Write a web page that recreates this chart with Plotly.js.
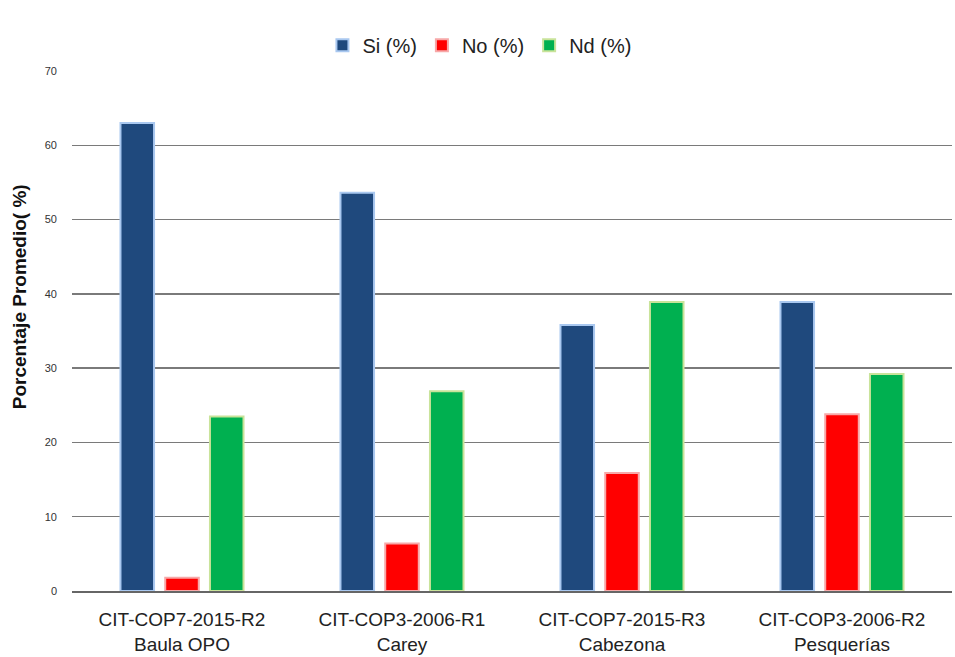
<!DOCTYPE html>
<html>
<head>
<meta charset="utf-8">
<script src="https://cdn.plot.ly/plotly-3.0.1.min.js"></script>
<style>html,body{margin:0;padding:0;background:#fff;}#chart{width:955px;height:657px;}</style>
</head>
<body>
<div id="chart"></div>
<script>
var categories = ["CIT-COP7-2015-R2<br>Baula OPO", "CIT-COP3-2006-R1<br>Carey", "CIT-COP7-2015-R3<br>Cabezona", "CIT-COP3-2006-R2<br>Pesquerías"];
var siValues = [63.0, 53.6, 35.8, 38.9];
var noValues = [1.8, 6.4, 15.9, 23.8];
var ndValues = [23.5, 26.9, 38.9, 29.2];
var yTicks = [0, 10, 20, 30, 40, 50, 60, 70];

var FONT = "'Liberation Sans', Arial, sans-serif";

var traces = [
  {type: 'bar', name: 'Si (%)', x: categories, y: siValues,
   marker: {color: '#1F497D', line: {color: '#A9C8F0', width: 2}}},
  {type: 'bar', name: 'No (%)', x: categories, y: noValues,
   marker: {color: '#FF0000', line: {color: '#F7A8A8', width: 2}}},
  {type: 'bar', name: 'Nd (%)', x: categories, y: ndValues,
   marker: {color: '#00B050', line: {color: '#C9E39A', width: 2}}}
];

var layout = {
  width: 955, height: 657,
  margin: {l: 72, r: 3, t: 71, b: 66},
  paper_bgcolor: '#fff', plot_bgcolor: '#fff',
  barmode: 'group',
  bargap: 0.39,
  bargroupgap: 0.25,
  showlegend: true,
  legend: {orientation: 'h', x: 0.463, xanchor: 'center', y: 1.012, yanchor: 'bottom',
           font: {family: FONT, size: 20, color: '#222'}, itemwidth: 30, traceorder: 'normal'},
  xaxis: {
    showgrid: false, showline: true, linecolor: '#666', linewidth: 1.5,
    ticks: '', tickfont: {family: FONT, size: 19, color: '#222'}, fixedrange: true,
    ticklabelstandoff: 11
  },
  yaxis: {
    range: [0, 70], tickvals: yTicks, showline: false, zeroline: false,
    gridcolor: '#7a7a7a', gridwidth: 1.3,
    ticks: '', ticklen: 0, tickfont: {family: FONT, size: 11, color: '#333'},
    ticklabelstandoff: 14
  },
  annotations: [{
    text: '<b>Porcentaje Promedio( %)</b>', textangle: -90,
    xref: 'paper', yref: 'paper', x: 0, y: 0.565, xanchor: 'center', yanchor: 'middle',
    xshift: -53, showarrow: false,
    font: {family: FONT, size: 19, color: '#111'}
  }]
};

Plotly.newPlot('chart', traces, layout, {displayModeBar: false, staticPlot: true});
</script>
</body>
</html>
